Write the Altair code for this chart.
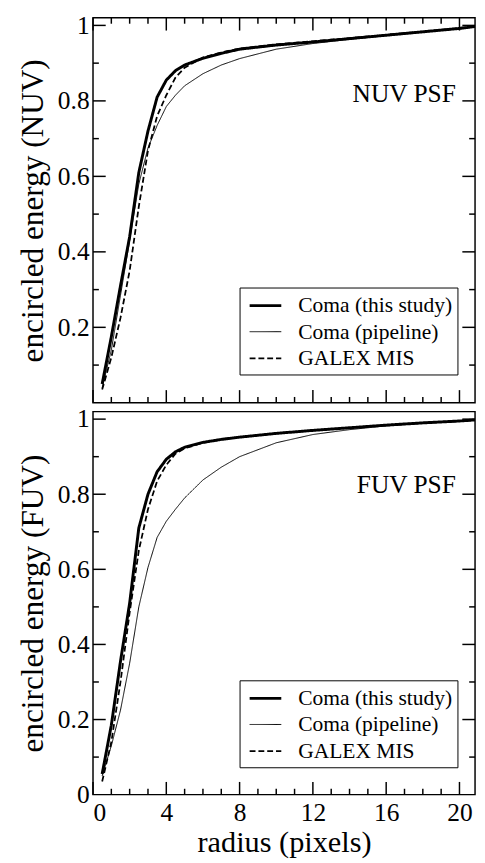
import altair as alt
import pandas as pd

# ---------------- data ----------------
radius = [0.5, 1.0, 1.5, 2.0, 2.5, 3.0, 3.5, 4.0, 4.5, 5.0, 6.0, 7.0, 8.0,
          10.0, 12.0, 14.0, 16.0, 18.0, 20.0, 20.85]

nuv_this_study = [0.05, 0.175, 0.31, 0.44, 0.61, 0.72, 0.81, 0.855, 0.88, 0.895,
                  0.913, 0.926, 0.937, 0.948, 0.956, 0.965, 0.974, 0.983, 0.992, 0.997]
nuv_pipeline = [0.04, 0.14, 0.285, 0.43, 0.58, 0.675, 0.735, 0.785, 0.815, 0.84,
                0.872, 0.895, 0.912, 0.937, 0.952, 0.963, 0.973, 0.982, 0.991, 0.996]
nuv_galex = [0.035, 0.12, 0.225, 0.35, 0.52, 0.668, 0.76, 0.815, 0.862, 0.888,
             0.915, 0.928, 0.939, 0.95, 0.958, 0.966, 0.975, 0.984, 0.993, 0.997]

fuv_this_study = [0.055, 0.185, 0.355, 0.51, 0.71, 0.80, 0.86, 0.893, 0.913, 0.925,
                  0.938, 0.946, 0.952, 0.962, 0.97, 0.977, 0.984, 0.99, 0.995, 0.998]
fuv_pipeline = [0.05, 0.13, 0.225, 0.35, 0.50, 0.605, 0.685, 0.728, 0.76, 0.79,
                0.838, 0.872, 0.9, 0.937, 0.959, 0.972, 0.982, 0.989, 0.994, 0.997]
fuv_galex = [0.035, 0.14, 0.30, 0.485, 0.65, 0.76, 0.835, 0.878, 0.908, 0.922,
             0.937, 0.946, 0.952, 0.962, 0.97, 0.977, 0.984, 0.99, 0.995, 0.998]

series_names = ["Coma (this study)", "Coma (pipeline)", "GALEX MIS"]

panel_labels = ["NUV PSF", "FUV PSF"]
panel_label_r = [19.8, 19.8]
panel_label_v = [0.818, 0.825]

y_titles = ["encircled energy (NUV)", "encircled energy (FUV)"]
x_title = "radius (pixels)"

x_major = [0, 4, 8, 12, 16, 20]
x_minor = [1, 2, 3, 5, 6, 7, 9, 10, 11, 13, 14, 15, 17, 18, 19]
y_major_top = [0.2, 0.4, 0.6, 0.8, 1.0]
y_major_bottom = [0.0, 0.2, 0.4, 0.6, 0.8, 1.0]
y_minor = [0.1, 0.3, 0.5, 0.7, 0.9]

# ---------------- styling ----------------
FONT = "Liberation Serif"
W = 391
H_TOP = 394
H_BOT = 392
XDOM = [0, 20.85]
YDOM = [0, 1.02]
MAJ = 13
MIN = 6


def long_df(curves):
    rows = []
    for k, (name, vals) in enumerate(zip(series_names, curves), start=1):
        for r, v in zip(radius, vals):
            rows.append({"r": r, "v": v, "k": k, "series": name})
    return pd.DataFrame(rows)


label_expr = " : ".join(
    f"datum.index == {i} ? '{n}'" for i, n in enumerate(series_names[:-1])
) + f" : '{series_names[-1]}'"


def panel(curves, H, y_major, y_title, label_idx, show_x, legend_y, top_ticks):
    xscale = alt.Scale(domain=XDOM, nice=False, zero=False)
    yscale = alt.Scale(domain=YDOM, nice=False, zero=False)
    if show_x:
        xaxis = alt.Axis(values=x_major, format="d", title=x_title,
                         labelPadding=5, titlePadding=3, titleFontSize=31)
    else:
        xaxis = None
    yaxis = alt.Axis(values=y_major, format="~g", title=y_title,
                     labelPadding=4, titlePadding=8, titleFontSize=32)
    xe = alt.X("r:Q", scale=xscale, axis=xaxis)
    ye = alt.Y("v:Q", scale=yscale, axis=yaxis)

    leg = alt.Legend(title=None, orient="none", legendX=150, legendY=legend_y,
                     labelExpr=label_expr)
    lines = alt.Chart(long_df(curves)).mark_line(color="black", clip=True).encode(
        x=xe, y=ye,
        strokeWidth=alt.StrokeWidth(
            "k:Q",
            scale=alt.Scale(type="threshold", domain=[1.5, 2.5], range=[3, 1, 1.8]),
            legend=leg),
        strokeDash=alt.StrokeDash(
            "k:Q",
            scale=alt.Scale(type="threshold", domain=[1.5, 2.5],
                            range=[[1, 0], [1, 0], [6, 3]]),
            legend=leg),
        detail="series:N",
    )

    lab = pd.DataFrame({"r": [panel_label_r[label_idx]],
                        "v": [panel_label_v[label_idx]],
                        "t": [panel_labels[label_idx]]})
    text = alt.Chart(lab).mark_text(font=FONT, fontSize=26, align="right",
                                    baseline="middle", color="black").encode(
        x=xe, y=ye, text="t:N")

    tick_style = dict(color="black", strokeWidth=1.5)
    xmaj = pd.DataFrame({"r": x_major})
    xmin = pd.DataFrame({"r": x_minor})
    ymaj = pd.DataFrame({"v": [v for v in y_major_bottom if v > 0]})
    ymin = pd.DataFrame({"v": y_minor})

    layers = [lines, text]
    # bottom ticks (pointing up)
    layers.append(alt.Chart(xmaj).mark_rule(**tick_style).encode(
        x=xe, y=alt.value(H), y2=alt.value(H - MAJ)))
    layers.append(alt.Chart(xmin).mark_rule(**tick_style).encode(
        x=xe, y=alt.value(H), y2=alt.value(H - MIN)))
    if top_ticks:
        layers.append(alt.Chart(xmaj).mark_rule(**tick_style).encode(
            x=xe, y=alt.value(0), y2=alt.value(MAJ)))
        layers.append(alt.Chart(xmin).mark_rule(**tick_style).encode(
            x=xe, y=alt.value(0), y2=alt.value(MIN)))
    # left ticks
    layers.append(alt.Chart(ymaj).mark_rule(**tick_style).encode(
        y=ye, x=alt.value(0), x2=alt.value(MAJ)))
    layers.append(alt.Chart(ymin).mark_rule(**tick_style).encode(
        y=ye, x=alt.value(0), x2=alt.value(MIN)))
    # right ticks
    layers.append(alt.Chart(ymaj).mark_rule(**tick_style).encode(
        y=ye, x=alt.value(W), x2=alt.value(W - MAJ)))
    layers.append(alt.Chart(ymin).mark_rule(**tick_style).encode(
        y=ye, x=alt.value(W), x2=alt.value(W - MIN)))

    return alt.layer(*layers).properties(width=W, height=H)


top = panel([nuv_this_study, nuv_pipeline, nuv_galex], H_TOP, y_major_top,
            y_titles[0], 0, False, 276, True)
bottom = panel([fuv_this_study, fuv_pipeline, fuv_galex], H_BOT, y_major_bottom,
               y_titles[1], 1, True, 275, False)

chart = (
    alt.vconcat(top, bottom, spacing=0)
    .resolve_scale(strokeDash="independent", strokeWidth="independent")
    .properties(padding={"left": 8, "top": -7, "right": 0, "bottom": 0},
                background="white")
    .configure_view(stroke="black", strokeWidth=1.5)
    .configure_axis(labelFont=FONT, titleFont=FONT, labelFontSize=26,
                    titleFontSize=30, titleFontWeight="normal",
                    labelColor="black", titleColor="black",
                    grid=False, ticks=False, domain=False)
    .configure_legend(labelFont=FONT, labelFontSize=22, labelColor="black",
                      strokeColor="black", fillColor="white", padding=5,
                      symbolType="M-1.35,0H1.35", symbolSize=576,
                      symbolOffset=8, symbolFillColor="transparent",
                      symbolStrokeColor="black", labelOffset=20,
                      rowPadding=2.7, labelLimit=300)
)

chart.save("out.html", embed_options={"renderer": "svg", "actions": False})
